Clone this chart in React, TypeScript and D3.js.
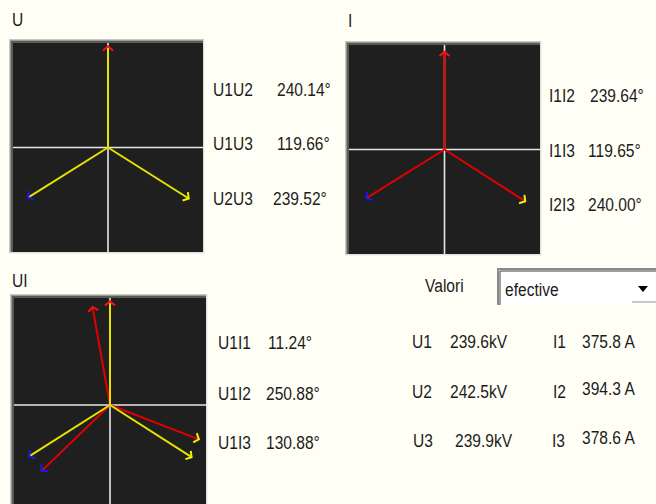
import React from "react";
import * as d3 from "d3";

// ---- data ----
const uMagnitudes = [239.6, 242.5, 239.9]; // kV, U1..U3
const iMagnitudes = [375.8, 394.3, 378.6]; // A, I1..I3
const uAngles = [0, 240.14, 119.66]; // angle of Uk relative to U1 (deg, CCW)
const iAngles = [0, 239.64, 119.65]; // angle of Ik relative to I1
const uiAngles = [11.24, 250.88, 130.88]; // angle of Ik relative to U1

const uPairLabels = ["U1U2", "U1U3", "U2U3"];
const uPairValues = ["240.14°", "119.66°", "239.52°"];
const iPairLabels = ["I1I2", "I1I3", "I2I3"];
const iPairValues = ["239.64°", "119.65°", "240.00°"];
const uiPairLabels = ["U1I1", "U1I2", "U1I3"];
const uiPairValues = ["11.24°", "250.88°", "130.88°"];
const uNames = ["U1", "U2", "U3"];
const uTexts = ["239.6kV", "242.5kV", "239.9kV"];
const iNames = ["I1", "I2", "I3"];
const iTexts = ["375.8 A", "394.3 A", "378.6 A"];

// ---- styles ----
const BG = "#fffff6";
const PLOT_BG = "#1f1f1f";
const AXIS = "#e6e6e6";
const U_LINE = "#e4e400";
const I_LINE = "#e00000";
const HEAD = ["#ff1010", "#f0f000", "#1818f0"];
const FONT = "'Liberation Sans', Arial, sans-serif";
const TXT = "#1c1c1c";

type Box = { x0: number; x1: number; y0: number; y1: number };
type Vec = { angle: number; mag: number; line: string; head: string };

function Label({ x, y, children, size = 19 }: { x: number; y: number; children: React.ReactNode; size?: number }) {
  return (
    <text
      transform={`translate(${x},${y}) scale(0.82,1)`}
      fontFamily={FONT}
      fontSize={size}
      fill={TXT}
    >
      {children}
    </text>
  );
}

function Panel({ box, vectors }: { box: Box; vectors: Vec[] }) {
  const { x0, x1, y0, y1 } = box;
  const w = x1 - x0;
  const h = y1 - y0;
  const x = d3.scaleLinear().domain([-1, 1]).range([x0, x1]);
  const y = d3.scaleLinear().domain([-1, 1]).range([y1, y0]);
  const k = 0.98;
  const cx = x(0);
  const cy = y(0);
  return (
    <g>
      {/* sunken frame */}
      <rect x={x0 - 4} y={y0 - 4} width={w + 6} height={h + 6} fill="#f4f4ee" />
      <rect x={x0 - 4} y={y0 - 4} width={w + 5} height={h + 5} fill="#c8c8c0" />
      <rect x={x0 - 3} y={y0 - 3} width={w + 4} height={h + 4} fill="#e0e0dc" />
      <rect x={x0 - 3} y={y0 - 3} width={w + 3} height={h + 3} fill="#9a9a94" />
      <rect x={x0 - 2} y={y0 - 2} width={w + 2} height={h + 2} fill="#5a5a5a" />
      <rect x={x0} y={y0} width={w} height={h} fill={PLOT_BG} />
      <line x1={x0} x2={x1} y1={cy} y2={cy} stroke={AXIS} strokeWidth={1.6} />
      <line x1={cx} x2={cx} y1={y0} y2={y1} stroke={AXIS} strokeWidth={1.6} />
      {vectors.map((v, i) => {
        const a = (v.angle * Math.PI) / 180;
        const tx = x(k * v.mag * Math.cos(a));
        const ty = y(k * v.mag * Math.sin(a));
        const dir = Math.atan2(ty - cy, tx - cx);
        const arm = 6.5;
        const spread = (130 * Math.PI) / 180;
        const p1 = [tx + arm * Math.cos(dir + spread), ty + arm * Math.sin(dir + spread)];
        const p2 = [tx + arm * Math.cos(dir - spread), ty + arm * Math.sin(dir - spread)];
        const line = d3.line()([[cx, cy], [tx, ty]]) || "";
        const head = d3.line()([p1 as [number, number], [tx, ty], p2 as [number, number]]) || "";
        return (
          <g key={i}>
            <path d={line} stroke={v.line} strokeWidth={2} fill="none" />
            <path d={head} stroke={v.head} strokeWidth={2} fill="none" />
          </g>
        );
      })}
    </g>
  );
}

export default function App() {
  const uMax = d3.max(uMagnitudes) as number;
  const iMax = d3.max(iMagnitudes) as number;
  const uVecs: Vec[] = uAngles.map((a, i) => ({
    angle: 90 + a,
    mag: uMagnitudes[i] / uMax,
    line: U_LINE,
    head: HEAD[i],
  }));
  const iVecs: Vec[] = iAngles.map((a, i) => ({
    angle: 90 + a,
    mag: iMagnitudes[i] / iMax,
    line: I_LINE,
    head: HEAD[i],
  }));
  const uiCurrVecs: Vec[] = uiAngles.map((a, i) => ({
    angle: 90 + a,
    mag: iMagnitudes[i] / iMax,
    line: I_LINE,
    head: HEAD[i],
  }));
  const uiVecs = [...uiCurrVecs, ...uVecs];

  const uBox: Box = { x0: 13, x1: 203, y0: 43, y1: 252 };
  const iBox: Box = { x0: 349, x1: 540, y0: 45, y1: 254 };
  const uiBox: Box = { x0: 14, x1: 206, y0: 298, y1: 512 };

  const uRows = [96, 150, 205];
  const iRows = [102, 157, 211];
  const uiRows = [349, 400, 449];
  const valRows = [348, 398, 447];

  return (
    <svg
      width={656}
      height={504}
      style={{ position: "absolute", left: 0, top: 0, background: BG }}
    >
      <rect x={0} y={0} width={656} height={504} fill={BG} />
      <Label x={12} y={26}>U</Label>
      <Label x={348} y={27}>I</Label>
      <Label x={12} y={287}>UI</Label>

      <Panel box={uBox} vectors={uVecs} />
      <Panel box={iBox} vectors={iVecs} />
      <Panel box={uiBox} vectors={uiVecs} />

      {uPairLabels.map((l, i) => (
        <g key={l}>
          <Label x={213} y={uRows[i]}>{l}</Label>
          <Label x={i === 2 ? 273 : 277} y={uRows[i]}>{uPairValues[i]}</Label>
        </g>
      ))}
      {iPairLabels.map((l, i) => (
        <g key={l}>
          <Label x={549} y={iRows[i]}>{l}</Label>
          <Label x={i === 0 ? 590 : 588} y={iRows[i]}>{iPairValues[i]}</Label>
        </g>
      ))}
      {uiPairLabels.map((l, i) => (
        <g key={l}>
          <Label x={218} y={uiRows[i]}>{l}</Label>
          <Label x={i === 0 ? 268 : 266} y={uiRows[i]}>{uiPairValues[i]}</Label>
        </g>
      ))}

      {/* Valori selector */}
      <Label x={425} y={292}>Valori</Label>
      <rect x={498} y={269} width={160} height={36} fill="#ffffff" />
      <path d="M498,305 V269 H658" stroke="#8a8a86" strokeWidth={2} fill="none" />
      <path d="M500,305 V271 H658" stroke="#404040" strokeWidth={1} fill="none" />
      <path d="M632,302 H656" stroke="#c8c8c0" strokeWidth={2} fill="none" />
      <Label x={505} y={296}>efective</Label>
      <path d="M638,286 L648,286 L643,292 Z" fill="#000" />

      {uNames.map((n, i) => (
        <g key={n}>
          <Label x={i === 2 ? 413 : 412} y={valRows[i]}>{n}</Label>
          <Label x={i === 2 ? 455 : 450} y={valRows[i]}>{uTexts[i]}</Label>
          <Label x={i === 2 ? 552 : 553} y={valRows[i]}>{iNames[i]}</Label>
          <Label x={582} y={valRows[i] - (i === 0 ? 0 : 3)}>{iTexts[i]}</Label>
        </g>
      ))}
    </svg>
  );
}
